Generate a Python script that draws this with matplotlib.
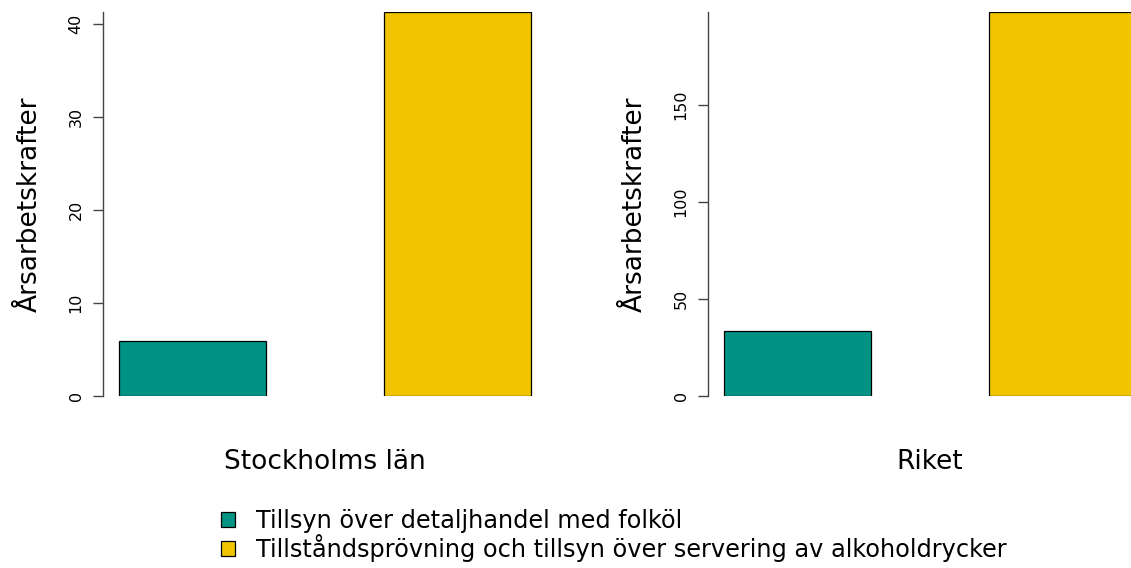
import matplotlib.pyplot as plt
from matplotlib.patches import Patch

plt.rcParams["font.family"] = ["DejaVu Sans"]

categories = ["Tillsyn över detaljhandel med folköl",
              "Tillståndsprövning och tillsyn över servering av alkoholdrycker"]
colors = ["#009383", "#F1C400"]

regions = ["Stockholms län", "Riket"]
values = {
    "Stockholms län": [5.9, 41.3],
    "Riket": [33.4, 197.8],
}
yticks = {
    "Stockholms län": [0, 10, 20, 30, 40],
    "Riket": [0, 50, 100, 150],
}

W, H = 1131, 568
fig = plt.figure(figsize=(W / 100, H / 100), dpi=100)

# panel positions in pixels (left, right); the right panel runs past the edge
panels = [(103, 547), (708, 1152)]
top_px, bottom_px = 12.3, 395.7

for region, (x0, x1) in zip(regions, panels):
    ax = fig.add_axes([x0 / W, 1 - bottom_px / H, (x1 - x0) / W, (bottom_px - top_px) / H])
    vals = values[region]
    # R style barplot: width 1, space 0.8, 4% padding
    xs = [0.8 + 1.8 * i + 0.5 for i in range(len(vals))]
    ax.bar(xs, vals, width=1.0, color=colors, edgecolor="black", linewidth=0.9)
    ax.set_xlim(0.688, 3.712)
    ax.set_ylim(0, max(vals))
    for s in ["top", "right", "bottom"]:
        ax.spines[s].set_visible(False)
    ax.spines["left"].set_color("#444444")
    ax.spines["left"].set_linewidth(1.0)
    ax.set_xticks([])
    ax.set_yticks(yticks[region])
    ax.set_yticklabels([str(t) for t in yticks[region]], rotation=90, va="center", fontsize=11.5)
    ax.tick_params(axis="y", length=7, width=1.0, color="#444444", pad=7)
    ax.set_ylabel("Årsarbetskrafter", fontsize=19)
    ax.yaxis.set_label_coords(-60 / (x1 - x0), 0.5)
    ax.patch.set_alpha(0)
    fig.text((x0 + x1) / 2 / W, 1 - 462 / H, region, fontsize=19, ha="center", va="center")

handles = [Patch(facecolor=c, edgecolor="black", linewidth=0.9) for c in colors]
fig.legend(handles, categories, loc="upper left", bbox_to_anchor=(221 / W, 1 - 509 / H),
           frameon=False, fontsize=17.3, handlelength=0.6, handleheight=0.6,
           handletextpad=0.85, labelspacing=0.05, borderpad=0, borderaxespad=0)

fig.savefig("out.png", dpi=100)
